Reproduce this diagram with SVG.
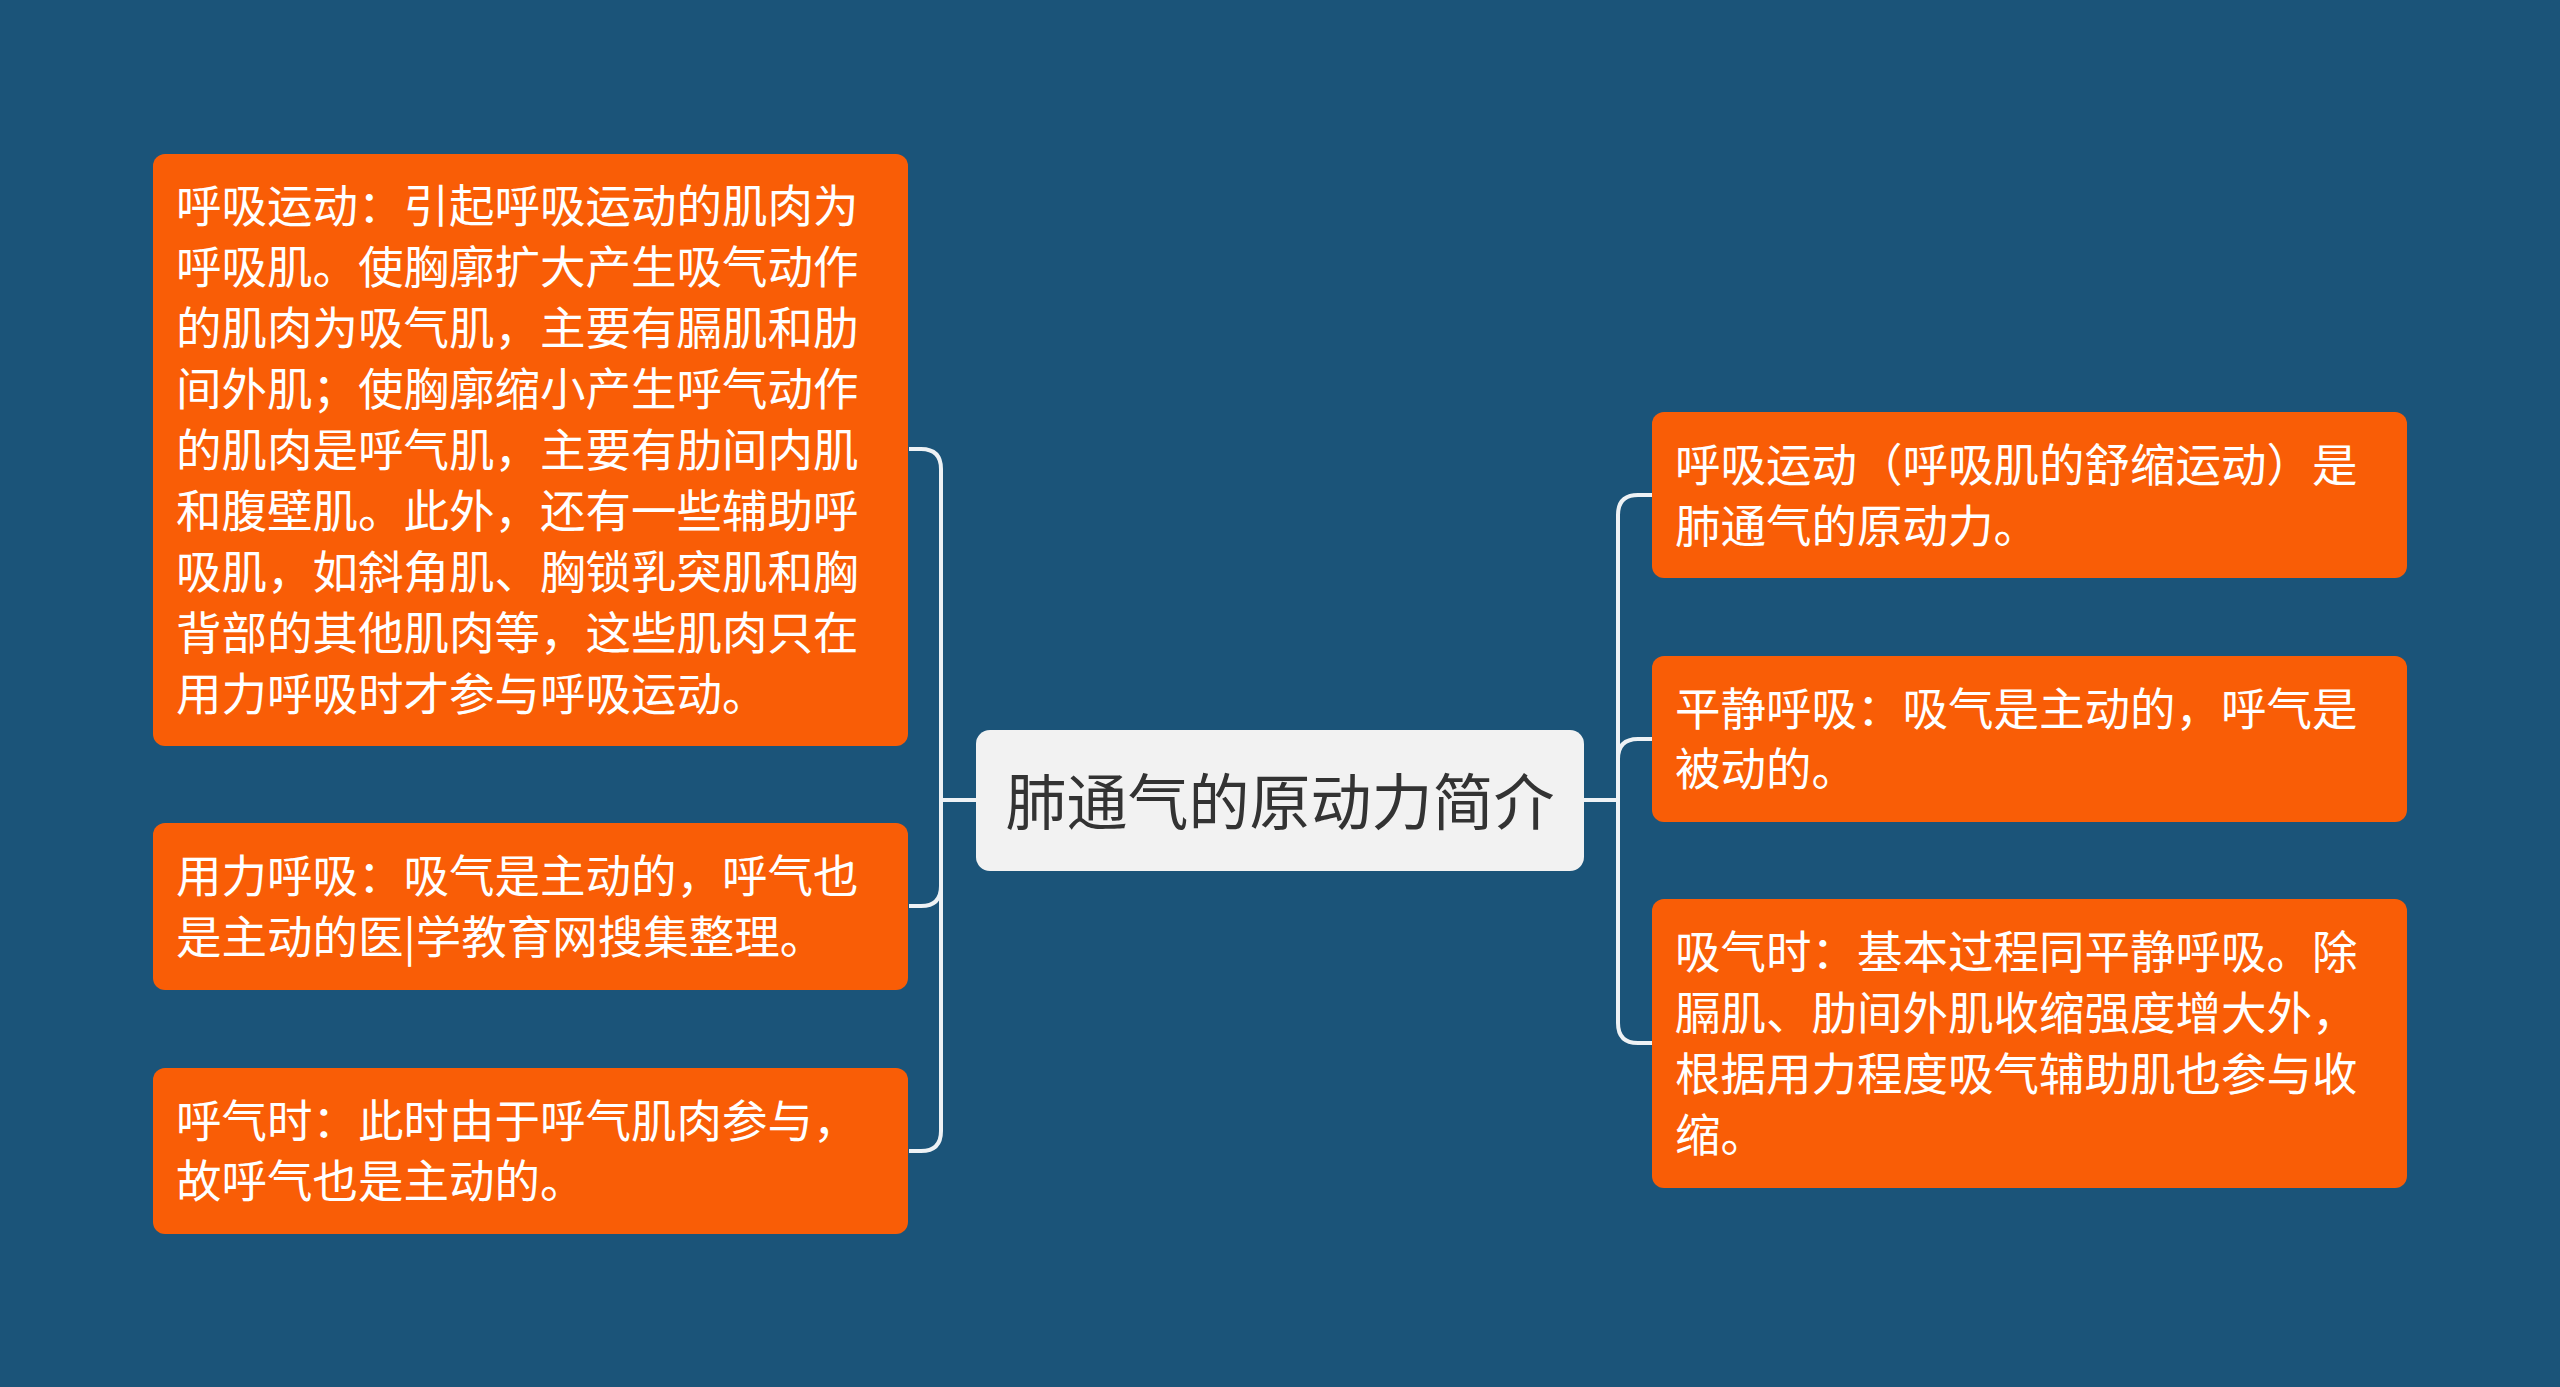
<svg xmlns="http://www.w3.org/2000/svg" width="2560" height="1387" viewBox="0 0 2560 1387">
<style>
.bg{fill:#1b5479}
.leaf rect{fill:#f95d06}
.leaf text{font-family:"Noto Sans CJK SC","Noto Sans",sans-serif;font-size:45.5px;fill:#ffffff;dominant-baseline:central}
.root rect{fill:#f2f2f2}
.root text{font-family:"Noto Sans CJK SC","Noto Sans",sans-serif;font-size:61px;fill:#333333;dominant-baseline:central;text-anchor:middle}
.conn path{fill:none;stroke:#eef2f5;stroke-width:4}
</style>
<rect class="bg" x="0" y="0" width="2560" height="1387"/>
<g id="connectors" class="conn">
<path d="M976 800 H941 V469 Q941 449 921 449 H909"/>
<path d="M976 800 H941 V886 Q941 906 921 906 H909"/>
<path d="M976 800 H941 V1131 Q941 1151 921 1151 H909"/>
<path d="M1584 800 H1618 V515 Q1618 495 1638 495 H1652"/>
<path d="M1584 800 H1618 V759 Q1618 739 1638 739 H1652"/>
<path d="M1584 800 H1618 V1023 Q1618 1043 1638 1043 H1652"/>
</g>
<g id="root" class="root">
<rect x="976" y="730" width="608" height="141" rx="14"/>
<text x="1280" y="798">肺通气的原动力简介</text>
</g>
<g id="node-l1" class="leaf">
<rect x="153" y="154" width="755" height="592" rx="12"/>
<text x="176"><tspan x="176" y="203">呼吸运动：引起呼吸运动的肌肉为</tspan><tspan x="176" y="264">呼吸肌。使胸廓扩大产生吸气动作</tspan><tspan x="176" y="325">的肌肉为吸气肌，主要有膈肌和肋</tspan><tspan x="176" y="386">间外肌；使胸廓缩小产生呼气动作</tspan><tspan x="176" y="447">的肌肉是呼气肌，主要有肋间内肌</tspan><tspan x="176" y="508">和腹壁肌。此外，还有一些辅助呼</tspan><tspan x="176" y="569">吸肌，如斜角肌、胸锁乳突肌和胸</tspan><tspan x="176" y="630">背部的其他肌肉等，这些肌肉只在</tspan><tspan x="176" y="691">用力呼吸时才参与呼吸运动。</tspan></text>
</g>
<g id="node-l2" class="leaf">
<rect x="153" y="823" width="755" height="167" rx="12"/>
<text x="176"><tspan x="176" y="873">用力呼吸：吸气是主动的，呼气也</tspan><tspan x="176" y="934">是主动的医|学教育网搜集整理。</tspan></text>
</g>
<g id="node-l3" class="leaf">
<rect x="153" y="1068" width="755" height="166" rx="12"/>
<text x="176"><tspan x="176" y="1118">呼气时：此时由于呼气肌肉参与，</tspan><tspan x="176" y="1178">故呼气也是主动的。</tspan></text>
</g>
<g id="node-r1" class="leaf">
<rect x="1652" y="412" width="755" height="166" rx="12"/>
<text x="1675"><tspan x="1675" y="462">呼吸运动（呼吸肌的舒缩运动）是</tspan><tspan x="1675" y="523">肺通气的原动力。</tspan></text>
</g>
<g id="node-r2" class="leaf">
<rect x="1652" y="656" width="755" height="166" rx="12"/>
<text x="1675"><tspan x="1675" y="706">平静呼吸：吸气是主动的，呼气是</tspan><tspan x="1675" y="766">被动的。</tspan></text>
</g>
<g id="node-r3" class="leaf">
<rect x="1652" y="899" width="755" height="289" rx="12"/>
<text x="1675"><tspan x="1675" y="949">吸气时：基本过程同平静呼吸。除</tspan><tspan x="1675" y="1010">膈肌、肋间外肌收缩强度增大外，</tspan><tspan x="1675" y="1071">根据用力程度吸气辅助肌也参与收</tspan><tspan x="1675" y="1132">缩。</tspan></text>
</g>
</svg>
